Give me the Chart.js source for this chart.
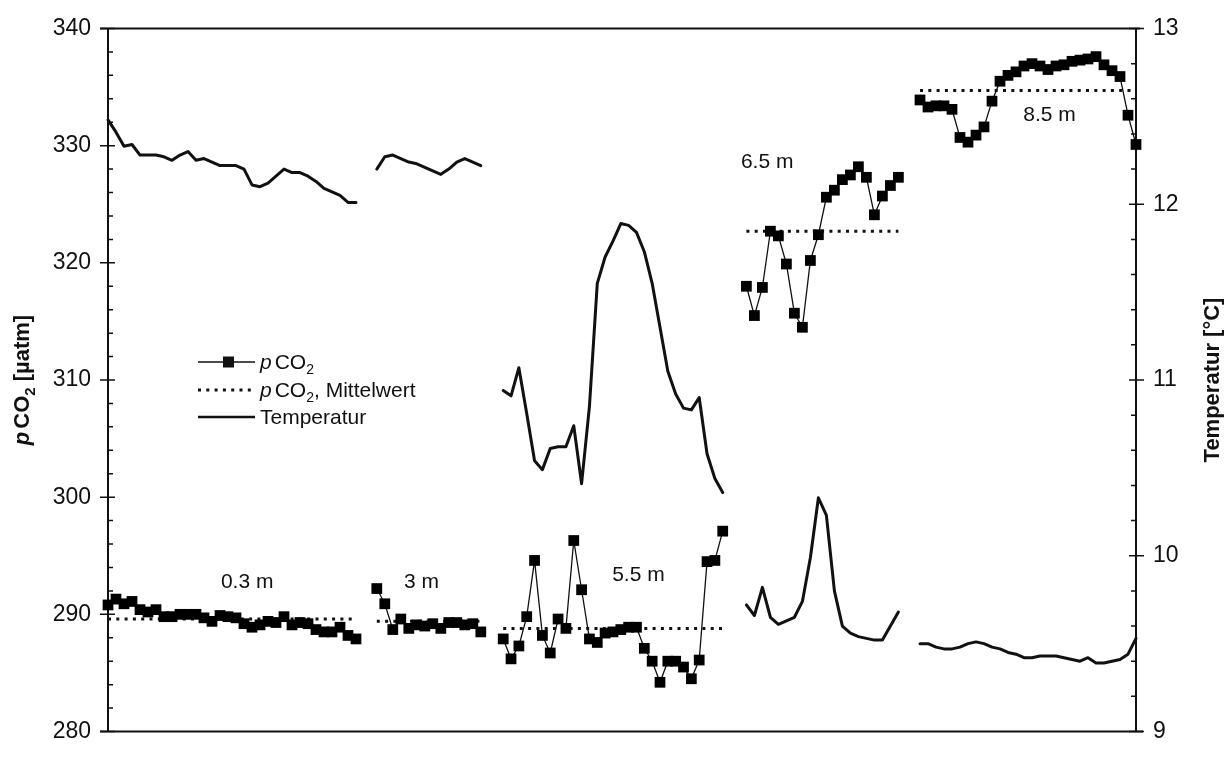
<!DOCTYPE html>
<html lang="de">
<head>
<meta charset="utf-8">
<title>pCO2 und Temperatur</title>
<script src="https://cdn.jsdelivr.net/npm/chart.js@4.4.1/dist/chart.umd.min.js"></script>
<style>
  html, body { margin: 0; padding: 0; background: #fff; }
  #wrap { width: 1232px; height: 760px; }
</style>
</head>
<body>
<div id="wrap"><canvas id="co2Chart" width="1232" height="760"></canvas></div>
<script>
const FONT = '"Liberation Sans", Arial, Helvetica, sans-serif';
const INK = '#111';

// Tick labels of both y axes
const pco2Ticks = [280, 290, 300, 310, 320, 330, 340];
const tempTicks = [9, 10, 11, 12, 13];

// Depth profiles, one block of samples per depth
const depths = ['0.3 m', '3 m', '5.5 m', '6.5 m', '8.5 m'];
const segStart = [0, 33.6, 49.4, 79.8, 101.5];   // sample no. of the first reading
const segStep = [1, 1, 0.98, 1, 1];

const pco2_03 = [290.8, 291.3, 290.9, 291.1, 290.4, 290.2, 290.4, 289.8, 289.8, 290.0, 290.0, 290.0,
  289.7, 289.4, 289.9, 289.8, 289.7, 289.2, 288.9, 289.1, 289.4, 289.3, 289.8, 289.1, 289.3, 289.2,
  288.7, 288.5, 288.5, 288.9, 288.2, 287.9];
const pco2_3 = [292.2, 290.9, 288.7, 289.6, 288.8, 289.1, 289.0, 289.2, 288.8, 289.3, 289.3, 289.1, 289.2, 288.5];
const pco2_55 = [287.9, 286.2, 287.3, 289.8, 294.6, 288.2, 286.7, 289.6, 288.8, 296.3, 292.1, 287.9,
  287.6, 288.4, 288.5, 288.7, 288.9, 288.9, 287.1, 286.0, 284.2, 286.0, 286.0, 285.5, 284.5, 286.1,
  294.5, 294.6, 297.1];
const pco2_65 = [318.0, 315.5, 317.9, 322.7, 322.3, 319.9, 315.7, 314.5, 320.2, 322.4, 325.6, 326.2,
  327.1, 327.5, 328.2, 327.3, 324.1, 325.7, 326.6, 327.3];
const pco2_85 = [333.9, 333.3, 333.4, 333.4, 333.1, 330.7, 330.3, 330.9, 331.6, 333.8, 335.5, 336.0,
  336.3, 336.8, 337.0, 336.8, 336.5, 336.8, 336.9, 337.2, 337.3, 337.4, 337.6, 336.9, 336.4, 335.9,
  332.6, 330.1];

const temp_03 = [12.48, 12.41, 12.33, 12.34, 12.28, 12.28, 12.28, 12.27, 12.25, 12.28, 12.30, 12.25,
  12.26, 12.24, 12.22, 12.22, 12.22, 12.20, 12.11, 12.10, 12.12, 12.16, 12.20, 12.18, 12.18, 12.16,
  12.13, 12.09, 12.07, 12.05, 12.01, 12.01];
const temp_3 = [12.20, 12.27, 12.28, 12.26, 12.24, 12.23, 12.21, 12.19, 12.17, 12.20, 12.24, 12.26, 12.24, 12.22];
const temp_55 = [10.94, 10.91, 11.07, 10.81, 10.54, 10.49, 10.61, 10.62, 10.62, 10.74, 10.41, 10.85,
  11.55, 11.70, 11.79, 11.89, 11.88, 11.84, 11.73, 11.55, 11.30, 11.05, 10.92, 10.84, 10.83, 10.90,
  10.58, 10.44, 10.36];
const temp_65 = [9.72, 9.66, 9.82, 9.65, 9.61, 9.63, 9.65, 9.74, 9.99, 10.33, 10.23, 9.80, 9.60, 9.56,
  9.54, 9.53, 9.52, 9.52, 9.60, 9.68];
const temp_85 = [9.50, 9.50, 9.48, 9.47, 9.47, 9.48, 9.50, 9.51, 9.50, 9.48, 9.47, 9.45, 9.44, 9.42,
  9.42, 9.43, 9.43, 9.43, 9.42, 9.41, 9.40, 9.42, 9.39, 9.39, 9.40, 9.41, 9.44, 9.53];

const pco2Mean = [289.6, 289.4, 288.8, 322.7, 334.7];

// where the depth names sit (sample no., pCO2)
const depthLabelX = [17.4, 39.2, 66.3, 82.4, 117.7];
const depthLabelY = [292.7, 292.7, 293.3, 328.6, 332.6];

const pco2Series = [pco2_03, pco2_3, pco2_55, pco2_65, pco2_85];
const tempSeries = [temp_03, temp_3, temp_55, temp_65, temp_85];

// one point list per quantity, with a null between depths so the line breaks
function seriesPoints(series) {
  const pts = [];
  series.forEach((vals, s) => {
    vals.forEach((v, k) => pts.push({ x: segStart[s] + k * segStep[s], y: v }));
    pts.push({ x: segStart[s] + vals.length * segStep[s], y: null });
  });
  return pts;
}

function meanPoints() {
  const pts = [];
  pco2Mean.forEach((m, s) => {
    const n = pco2Series[s].length;
    pts.push({ x: segStart[s], y: m });
    pts.push({ x: segStart[s] + (n - 1) * segStep[s], y: m });
    pts.push({ x: segStart[s] + n * segStep[s], y: null });
  });
  return pts;
}

// text made of pieces in different fonts (italic p, subscript 2)
function drawParts(ctx, parts, x, y, align) {
  let width = 0;
  parts.forEach(p => { ctx.font = p.font; width += ctx.measureText(p.t).width + (p.gap || 0); });
  let cx = align === 'center' ? x - width / 2 : x;
  parts.forEach(p => {
    ctx.font = p.font;
    ctx.fillText(p.t, cx, y + (p.dy || 0));
    cx += ctx.measureText(p.t).width + (p.gap || 0);
  });
}

const reg = (size) => `${size}px ${FONT}`;
const bold = (size) => `bold ${size}px ${FONT}`;

const co2Parts = (size, fw) => [
  { t: 'p', font: (fw ? 'italic bold ' : 'italic ') + size + 'px ' + FONT, gap: 3 },
  { t: 'CO', font: (fw ? 'bold ' : '') + size + 'px ' + FONT },
  { t: '2', font: (fw ? 'bold ' : '') + Math.round(size * 0.68) + 'px ' + FONT, dy: Math.round(size * 0.25) }
];

const framePlugin = {
  id: 'frame',
  beforeDatasetsDraw(chart) {
    const { ctx, chartArea: a, scales } = chart;
    ctx.save();
    ctx.strokeStyle = INK;
    ctx.lineWidth = 2;
    ctx.beginPath();
    ctx.moveTo(a.left - 8, a.top); ctx.lineTo(a.right + 4, a.top);
    ctx.moveTo(a.left - 8, a.bottom); ctx.lineTo(a.right + 7, a.bottom);
    ctx.moveTo(a.left, a.top); ctx.lineTo(a.left, a.bottom);
    ctx.moveTo(a.right, a.top); ctx.lineTo(a.right, a.bottom);
    ctx.stroke();

    // major ticks cross the axis, minor ticks point into the plot
    ctx.lineWidth = 1.5;
    ctx.beginPath();
    for (let v = 280; v <= 340; v += 2) {
      const y = scales.y.getPixelForValue(v);
      const major = v % 10 === 0;
      ctx.moveTo(a.left - (major ? 8 : 0), y);
      ctx.lineTo(a.left + (major ? 7 : 5), y);
    }
    for (let i = 0; i <= 20; i++) {
      const v = 9 + i * 0.2;
      const y = scales.y1.getPixelForValue(v);
      const major = i % 5 === 0;
      ctx.moveTo(a.right - (major ? 7 : 5), y);
      ctx.lineTo(a.right + (major ? 8 : 0), y);
    }
    ctx.stroke();
    ctx.restore();
  },
  afterDraw(chart) {
    const { ctx, scales } = chart;
    ctx.save();
    ctx.fillStyle = INK;
    ctx.textBaseline = 'middle';

    // depth names
    ctx.textAlign = 'center';
    ctx.font = reg(21);
    depths.forEach((d, s) => {
      ctx.fillText(d, scales.x.getPixelForValue(depthLabelX[s]), scales.y.getPixelForValue(depthLabelY[s]));
    });

    // legend
    ctx.textAlign = 'left';
    ctx.textBaseline = 'alphabetic';
    const lx0 = 198, lx1 = 255, tx = 260;
    const rows = [362, 390, 417];
    ctx.strokeStyle = INK;

    ctx.lineWidth = 1.5;
    ctx.beginPath(); ctx.moveTo(lx0, rows[0]); ctx.lineTo(lx1, rows[0]); ctx.stroke();
    ctx.fillRect(223, rows[0] - 5.5, 11, 11);
    drawParts(ctx, co2Parts(21, false), tx, rows[0] + 7);

    ctx.lineWidth = 3;
    ctx.setLineDash([3, 5.3]);
    ctx.beginPath(); ctx.moveTo(lx0, rows[1]); ctx.lineTo(lx1, rows[1]); ctx.stroke();
    ctx.setLineDash([]);
    drawParts(ctx, co2Parts(21, false).concat([{ t: ', Mittelwert', font: reg(21) }]), tx, rows[1] + 7);

    ctx.lineWidth = 2.5;
    ctx.beginPath(); ctx.moveTo(lx0, rows[2]); ctx.lineTo(lx1, rows[2]); ctx.stroke();
    ctx.font = reg(21);
    ctx.fillText('Temperatur', tx, rows[2] + 7);

    // axis titles, reading upwards
    const midY = (chart.chartArea.top + chart.chartArea.bottom) / 2;
    ctx.save();
    ctx.translate(29, midY);
    ctx.rotate(-Math.PI / 2);
    drawParts(ctx, co2Parts(22, true).concat([{ t: ' [µatm]', font: bold(22) }]), 0, 0, 'center');
    ctx.restore();

    ctx.save();
    ctx.translate(1219, midY);
    ctx.rotate(-Math.PI / 2);
    ctx.textAlign = 'center';
    ctx.font = bold(22);
    ctx.fillText('Temperatur [°C]', 0, 0);
    ctx.restore();

    ctx.restore();
  }
};

const ctx = document.getElementById('co2Chart').getContext('2d');
new Chart(ctx, {
  type: 'line',
  data: {
    datasets: [
      {
        label: 'pCO2',
        data: seriesPoints(pco2Series),
        yAxisID: 'y',
        borderColor: INK,
        borderWidth: 1.3,
        pointStyle: 'rect',
        pointRadius: 7.6,
        pointBackgroundColor: '#000',
        pointBorderWidth: 0,
        spanGaps: false,
        clip: false
      },
      {
        label: 'pCO2, Mittelwert',
        data: meanPoints(),
        yAxisID: 'y',
        borderColor: INK,
        borderWidth: 3,
        borderDash: [3, 5.3],
        pointRadius: 0,
        spanGaps: false,
        clip: false
      },
      {
        label: 'Temperatur',
        data: seriesPoints(tempSeries),
        yAxisID: 'y1',
        borderColor: INK,
        borderWidth: 3,
        borderJoinStyle: 'round',
        borderCapStyle: 'round',
        pointRadius: 0,
        spanGaps: false,
        clip: false
      }
    ]
  },
  options: {
    responsive: false,
    devicePixelRatio: 1,
    animation: false,
    layout: { padding: { top: 22, bottom: 12, left: 0, right: 0 } },
    plugins: { legend: { display: false }, tooltip: { enabled: false } },
    scales: {
      x: { type: 'linear', min: 0, max: 128.5, display: false },
      y: {
        position: 'left',
        min: 280,
        max: 340,
        afterBuildTicks: (s) => { s.ticks = pco2Ticks.map(v => ({ value: v })); },
        afterFit: (s) => { s.width = 108; },
        grid: { display: false, drawTicks: false },
        border: { display: false },
        ticks: { color: INK, padding: 17, font: { family: FONT, size: 23, lineHeight: 1 } }
      },
      y1: {
        position: 'right',
        min: 9,
        max: 13,
        afterBuildTicks: (s) => { s.ticks = tempTicks.map(v => ({ value: v })); },
        afterFit: (s) => { s.width = 96; },
        grid: { display: false, drawTicks: false },
        border: { display: false },
        ticks: { color: INK, padding: 17, font: { family: FONT, size: 23, lineHeight: 1 } }
      }
    }
  },
  plugins: [framePlugin]
});
</script>
</body>
</html>
